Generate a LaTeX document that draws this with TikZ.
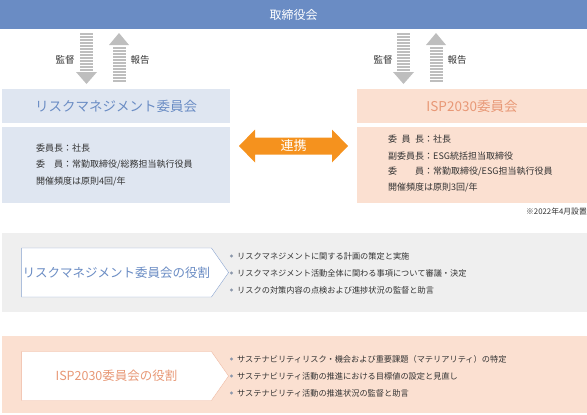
\documentclass[tikz,border=0pt]{standalone}
\usepackage{fontspec}
\setmainfont{Noto Sans CJK JP}
\usetikzlibrary{shapes.symbols}

\definecolor{boardblue}{RGB}{106,140,196}
\definecolor{rmlight}{RGB}{223,230,241}
\definecolor{isplight}{RGB}{251,224,209}
\definecolor{ispsalmon}{RGB}{232,152,118}
\definecolor{linkorange}{RGB}{245,146,30}
\definecolor{bandgray}{RGB}{239,239,239}
\definecolor{stripegray}{RGB}{190,190,190}
\definecolor{bodytext}{RGB}{51,51,51}
\definecolor{bulletgray}{RGB}{138,150,170}

\begin{document}
\begin{tikzpicture}[
        x=1pt, y=-1pt,
        every node/.style={inner sep=0pt, text=bodytext},
        boxhead/.style={minimum height=34pt, font=\fontsize{13.5}{15}\selectfont},
        boxbody/.style={minimum height=76pt},
        bodyline/.style={anchor=west, font=\fontsize{9}{10}\selectfont},
        arrowlabel/.style={font=\fontsize{9.5}{11}\selectfont},
        rolebox/.style={signal, signal to=east, signal pointer angle=110, fill=white, draw,
                        minimum width=207pt, minimum height=49pt, font=\fontsize{12.5}{15}\selectfont},
        roleitem/.style={anchor=west, font=\fontsize{8.2}{10}\selectfont}
        ]
        \useasboundingbox (0,0) rectangle (587,415);

        % 取締役会
        \node [fill=boardblue, text=white, minimum width=587pt, minimum height=29pt,
               font=\fontsize{12}{14}\selectfont] (board) at (293.5,14.5) {取締役会};

        % 監督・報告の矢印
        \foreach \dx in {0,317} {
          \begin{scope}[xshift=\dx]
            \foreach \y in {34,37,...,70}
              \draw [stripegray, line width=1.6pt] (80,\y) -- (93,\y);
            \fill [stripegray] (76,72) -- (97,72) -- (86.5,84) -- cycle;
            \fill [stripegray] (109,45) -- (129,45) -- (119,33) -- cycle;
            \foreach \y in {48,51,...,82}
              \draw [stripegray, line width=1.6pt] (113,\y) -- (126,\y);
          \end{scope}
        }
        \node [arrowlabel] (superL) at (65,60) {監督};
        \node [arrowlabel] (reportL) at (140,60) {報告};
        \node [arrowlabel] (superR) at (383,60) {監督};
        \node [arrowlabel] (reportR) at (457,60) {報告};

        % リスクマネジメント委員会
        \node [boxhead, fill=rmlight, text=boardblue, minimum width=228pt] (rmhead) at (116,106) {リスクマネジメント委員会};
        \node [boxbody, fill=rmlight, minimum width=228pt] (rmbody) at (116,165) {};
        \node [bodyline] (rm1) at (36,148) {委員長：社長};
        \node [bodyline] (rm2) at (36,165) {委　員：常勤取締役/総務担当執行役員};
        \node [bodyline] (rm3) at (36,182) {開催頻度は原則4回/年};

        % ISP2030委員会
        \node [boxhead, fill=isplight, text=ispsalmon, minimum width=230pt] (isphead) at (472,106) {ISP2030委員会};
        \node [boxbody, fill=isplight, minimum width=230pt] (ispbody) at (472,165) {};
        \node [bodyline] (isp1) at (388,139) {\makebox[4em][s]{委\hfil 員\hfil 長}：社長};
        \node [bodyline] (isp2) at (388,156) {副委員長：ESG統括担当取締役};
        \node [bodyline] (isp3) at (388,172) {委　　員：常勤取締役/ESG担当執行役員};
        \node [bodyline] (isp4) at (388,188) {開催頻度は原則3回/年};
        \node [anchor=east, font=\fontsize{7.8}{9}\selectfont] (ispdate) at (587,212) {※2022年4月設置};

        % 連携
        \fill [linkorange] (239,146) -- (255,129.5) -- (255,137.5) -- (332,137.5) -- (332,129.5)
              -- (348,146) -- (332,162.5) -- (332,154.5) -- (255,154.5) -- (255,162.5) -- cycle;
        \node [text=white, font=\fontsize{13}{14}\selectfont] (link) at (293.5,146) {連携};

        % 役割
        \node [fill=bandgray, minimum width=585pt, minimum height=79pt] (rmband) at (294.5,272.5) {};
        \node [rolebox, draw=boardblue!80, text=boardblue] (rmrole) at (116.5,272.5) {リスクマネジメント委員会の役割};
        \foreach \y/\txt in {256/リスクマネジメントに関する計画の策定と実施,
                             273/リスクマネジメント活動全体に関わる事項について審議・決定,
                             290/リスクの対策内容の点検および進捗状況の監督と助言} {
          \fill [bulletgray] (231.5,\y) circle (1.7pt);
          \node [roleitem] at (237,\y) {\txt};
        }

        \node [fill=isplight, minimum width=585pt, minimum height=77pt] (ispband) at (294.5,374.5) {};
        \node [rolebox, draw=ispsalmon!70, text=ispsalmon] (isprole) at (116.5,376) {ISP2030委員会の役割};
        \foreach \y/\txt in {359/サステナビリティリスク・機会および重要課題（マテリアリティ）の特定,
                             376/サステナビリティ活動の推進における目標値の設定と見直し,
                             393/サステナビリティ活動の推進状況の監督と助言} {
          \fill [bulletgray] (231.5,\y) circle (1.7pt);
          \node [roleitem] at (237,\y) {\txt};
        }
\end{tikzpicture}
\end{document}
